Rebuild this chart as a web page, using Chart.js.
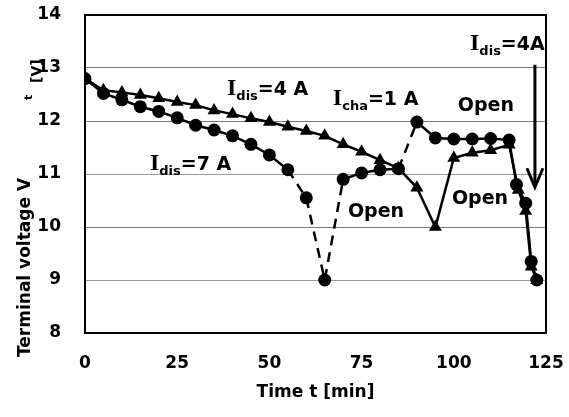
<!DOCTYPE html>
<html>
<head>
<meta charset="utf-8">
<script src="https://cdn.jsdelivr.net/npm/chart.js@4.4.1/dist/chart.umd.min.js"></script>
<style>
  html, body { margin: 0; padding: 0; background: #fff; }
  #wrap { width: 569px; height: 417px; position: relative; }
</style>
</head>
<body>
<div id="wrap"><canvas id="c"></canvas></div>
<script>
// ---- data ----
const xTicks = [0, 25, 50, 75, 100, 125];
const yTicks = [8, 9, 10, 11, 12, 13, 14];

// circles: I_dis = 7 A, open, I_cha = 1 A, open, I_dis = 4 A
const timeCircle = [0, 5, 10, 15, 20, 25, 30, 35, 40, 45, 50, 55, 60, 65, 70, 75, 80, 85, 90, 95, 100, 105, 110, 115, 117, 119.5, 121, 122.5];
const voltCircle = [12.8, 12.52, 12.4, 12.27, 12.18, 12.06, 11.92, 11.83, 11.72, 11.56, 11.36, 11.08, 10.55, 9.0, 10.9, 11.02, 11.08, 11.1, 11.98, 11.68, 11.66, 11.66, 11.67, 11.64, 10.8, 10.45, 9.35, 9.0];

// triangles: I_dis = 4 A, open, I_dis = 4 A
const timeTriangle = [0, 5, 10, 15, 20, 25, 30, 35, 40, 45, 50, 55, 60, 65, 70, 75, 80, 85, 90, 95, 100, 105, 110, 115, 117.5, 119.5, 121, 122.5];
const voltTriangle = [12.8, 12.58, 12.54, 12.49, 12.43, 12.36, 12.3, 12.2, 12.13, 12.05, 11.98, 11.89, 11.81, 11.72, 11.56, 11.42, 11.26, 11.11, 10.74, 10.0, 11.3, 11.4, 11.45, 11.55, 10.7, 10.3, 9.25, 9.0];

// segments of the circle curve drawn dashed (start times)
const dashedFrom = [55, 60, 65, 85];

// annotation text (anchor in data units: left / baseline)
const notes = [
  { parts: [['I', 'serif'], ['dis', 'sub'], ['=4 A', 'main']], t: 38.5, v: 12.49 },
  { parts: [['I', 'serif'], ['dis', 'sub'], ['=7 A', 'main']], t: 17.6, v: 11.08 },
  { parts: [['I', 'serif'], ['cha', 'sub'], ['=1 A', 'main']], t: 67.2, v: 12.3 },
  { parts: [['I', 'serif'], ['dis', 'sub'], ['=4A', 'main']], t: 104.4, v: 13.34 },
  { parts: [['Open', 'main']], t: 101.1, v: 12.19 },
  { parts: [['Open', 'main']], t: 71.3, v: 10.19 },
  { parts: [['Open', 'main']], t: 99.5, v: 10.43 }
];
const arrow = { t: 122, vFrom: 13.06, vTo: 10.75 };

const toPts = (xs, ys) => xs.map((x, i) => ({ x, y: ys[i] }));

const SANS = '"DejaVu Sans", sans-serif';
const fonts = {
  serif: { font: 'bold 24px "Liberation Serif", serif', dy: 0 },
  sub: { font: 'bold 13px ' + SANS, dy: 5 },
  main: { font: 'bold 19px ' + SANS, dy: 0 }
};

const decor = {
  id: 'decor',
  beforeDatasetsDraw(chart) {
    const { ctx, chartArea: a } = chart;
    ctx.save();
    ctx.strokeStyle = '#000';
    ctx.lineWidth = 2;
    ctx.strokeRect(a.left, a.top, a.right - a.left, a.bottom - a.top);
    ctx.restore();
  },
  afterDraw(chart) {
    const { ctx } = chart;
    const xs = chart.scales.x, ys = chart.scales.y;
    ctx.save();
    ctx.fillStyle = '#000';
    ctx.textBaseline = 'alphabetic';
    ctx.textAlign = 'left';
    for (const n of notes) {
      let x = xs.getPixelForValue(n.t);
      const y = ys.getPixelForValue(n.v);
      for (const [txt, kind] of n.parts) {
        ctx.font = fonts[kind].font;
        ctx.fillText(txt, x, y + fonts[kind].dy);
        x += ctx.measureText(txt).width;
      }
    }
    // arrow
    const ax = xs.getPixelForValue(arrow.t);
    const ay0 = ys.getPixelForValue(arrow.vFrom);
    const ay1 = ys.getPixelForValue(arrow.vTo);
    ctx.strokeStyle = '#000';
    ctx.lineWidth = 3;
    ctx.beginPath();
    ctx.moveTo(ax, ay0);
    ctx.lineTo(ax, ay1 - 2);
    ctx.stroke();
    ctx.beginPath();
    ctx.moveTo(ax - 8, ay1 - 19);
    ctx.lineTo(ax, ay1);
    ctx.lineTo(ax + 8, ay1 - 19);
    ctx.stroke();

    // y axis title with subscript
    ctx.translate(30, 357);
    ctx.rotate(-Math.PI / 2);
    ctx.font = 'bold 17px ' + SANS;
    ctx.fillText('Terminal voltage V', 0, 0);
    ctx.font = 'bold 11px ' + SANS;
    ctx.fillText('t', 257, 2);
    ctx.font = 'bold 14px ' + SANS;
    ctx.fillText('[V]', 274, 11);
    ctx.restore();
  }
};

new Chart(document.getElementById('c'), {
  type: 'line',
  data: {
    datasets: [
      {
        label: 'Triangle',
        data: toPts(timeTriangle, voltTriangle),
        borderColor: '#000',
        backgroundColor: '#000',
        borderWidth: 2.5,
        pointStyle: 'triangle',
        pointRadius: 7.5,
        pointBorderWidth: 0,
        tension: 0
      },
      {
        label: 'Circle',
        data: toPts(timeCircle, voltCircle),
        borderColor: '#000',
        backgroundColor: '#000',
        borderWidth: 2.5,
        pointStyle: 'circle',
        pointRadius: 6.5,
        pointBorderWidth: 0,
        tension: 0,
        segment: {
          borderDash: c => dashedFrom.includes(c.p0.parsed.x) ? [10, 7] : undefined
        }
      }
    ]
  },
  options: {
    responsive: true,
    maintainAspectRatio: false,
    animation: false,
    layout: { autoPadding: false, padding: { left: 0, right: 23, top: 15, bottom: 0 } },
    plugins: { legend: { display: false }, tooltip: { enabled: false } },
    scales: {
      x: {
        type: 'linear',
        min: 0, max: 125,
        afterBuildTicks: s => { s.ticks = xTicks.map(v => ({ value: v })); },
        afterFit: s => { s.height = 84; s.paddingLeft = 0; s.paddingRight = 0; },
        grid: { display: false, drawTicks: false },
        border: { display: false },
        ticks: { color: '#000', padding: 20, maxRotation: 0, font: { family: SANS, size: 17, weight: 'bold' } },
        title: {
          display: true, text: 'Time t [min]', color: '#000',
          font: { family: SANS, size: 17, weight: 'bold' },
          padding: { top: 0, bottom: 14 }
        }
      },
      y: {
        min: 8, max: 14,
        afterBuildTicks: s => { s.ticks = yTicks.map(v => ({ value: v })); },
        afterFit: s => { s.width = 85; s.paddingTop = 0; s.paddingBottom = 0; },
        grid: {
          drawTicks: false,
          lineWidth: 1,
          color: c => (c.tick && (c.tick.value === 8 || c.tick.value === 14)) ? 'rgba(0,0,0,0)'
            : (c.tick && (c.tick.value === 11 || c.tick.value === 9)) ? '#9a9a9a' : '#7a7a7a'
        },
        border: { display: false },
        ticks: { color: '#000', padding: 24, font: { family: SANS, size: 17, weight: 'bold' } }
      }
    }
  },
  plugins: [decor]
});
</script>
</body>
</html>
